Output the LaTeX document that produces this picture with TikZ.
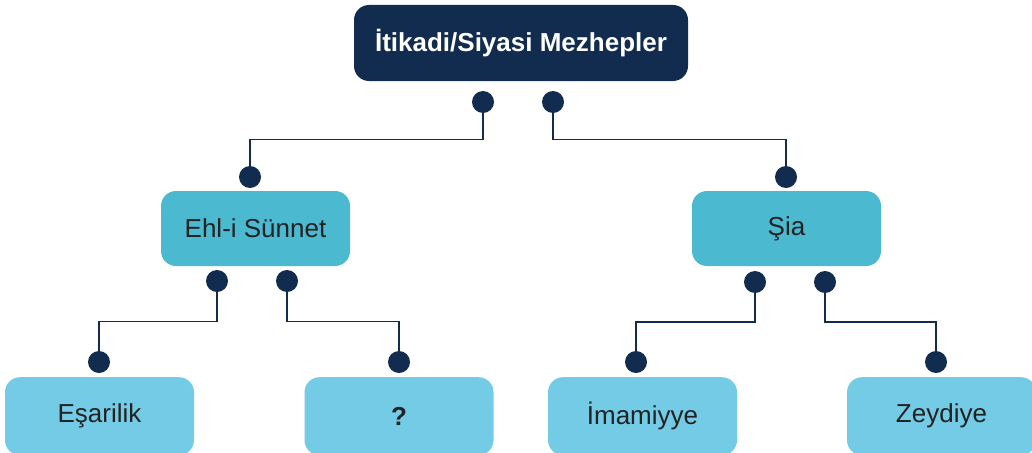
\documentclass[tikz,border=0pt]{standalone}
\usepackage{fontspec}
\setmainfont{Liberation Sans}
\definecolor{navy1}{RGB}{18, 44, 80}
\definecolor{teal1}{RGB}{75, 185, 208}
\definecolor{sky1}{RGB}{116, 203, 229}
\definecolor{ink1}{RGB}{34, 34, 34}
\usepackage{tikz}
\usetikzlibrary{calc, positioning}

\tikzset{
  rootbox/.style={fill=navy1, text=white, rounded corners=15pt, minimum width=334pt,
    minimum height=76pt, font=\fontsize{26}{30}\selectfont\bfseries},
  midbox/.style={fill=teal1, text=ink1, rounded corners=15pt, minimum width=189pt,
    minimum height=75pt, font=\fontsize{26}{30}\selectfont},
  leafbox/.style={fill=sky1, text=ink1, rounded corners=15pt, minimum width=189pt,
    minimum height=78pt, anchor=north, font=\fontsize{26}{30}\selectfont},
  dot/.style={circle, fill=navy1, inner sep=0pt, minimum size=22pt},
  link/.style={draw=navy1, line width=1.7pt}
}

\begin{document}
\begin{tikzpicture}[x=1pt, y=-1pt]
  \useasboundingbox (0,0) rectangle (1032,452);

  % Boxes
  \node[rootbox] (root) at (521,43) {İtikadi/Siyasi Mezhepler};
  \node[midbox] (ehl) at (255.5,228.5) {Ehl-i Sünnet};
  \node[midbox] (sia) at (786.5,228.5) {Şia};
  \node[leafbox] (esa) at (99.5,377) {Eşarilik};
  \node[leafbox] (unk) at (399,377) {\textbf{?}};
  \node[leafbox] (ima) at (642.5,377) {İmamiyye};
  \node[leafbox] (zey) at (941.5,377) {Zeydiye};

  % Dots
  \node[dot] (rootL) at (483,102) {};
  \node[dot] (rootR) at (553,102) {};
  \node[dot] (ehlT) at (250,177) {};
  \node[dot] (siaT) at (786,177) {};
  \node[dot] (ehlL) at (217,281) {};
  \node[dot] (ehlR) at (287,281) {};
  \node[dot] (siaL) at (755,282) {};
  \node[dot] (siaR) at (825,282) {};
  \node[dot] (esaT) at (99,362) {};
  \node[dot] (unkT) at (399,362) {};
  \node[dot] (imaT) at (636,362) {};
  \node[dot] (zeyT) at (936,362) {};

  % Connectors
  \draw[link] (rootL) |- ($(rootL)!.5!(ehlT)$) -| (ehlT);
  \draw[link] (rootR) |- ($(rootR)!.5!(siaT)$) -| (siaT);
  \draw[link] (ehlL) |- ($(ehlL)!.5!(esaT)$) -| (esaT);
  \draw[link] (ehlR) |- ($(ehlR)!.5!(unkT)$) -| (unkT);
  \draw[link] (siaL) |- ($(siaL)!.5!(imaT)$) -| (imaT);
  \draw[link] (siaR) |- ($(siaR)!.5!(zeyT)$) -| (zeyT);
\end{tikzpicture}
\end{document}
